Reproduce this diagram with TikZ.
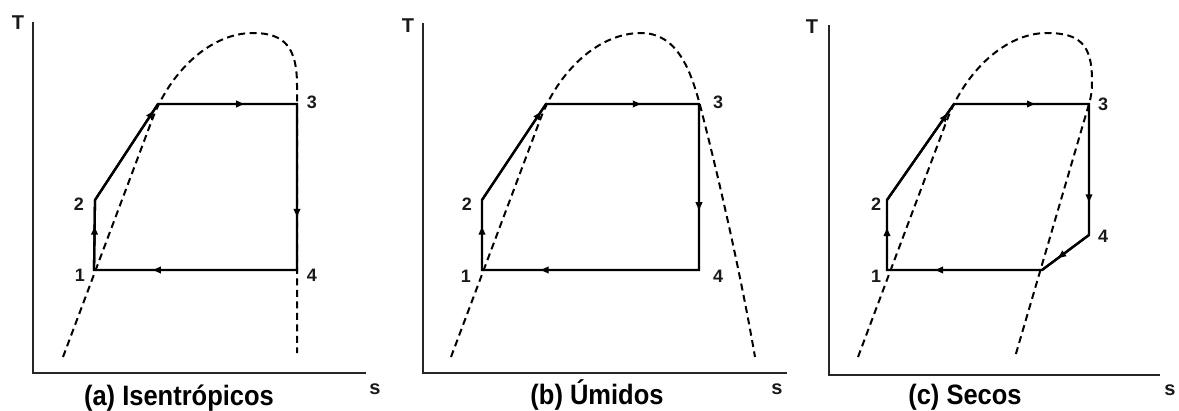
\documentclass[tikz,border=0pt]{standalone}
\usepackage{fontspec}
\setmainfont{Liberation Sans}
\usetikzlibrary{arrows.meta,decorations.markings}
\tikzset{
  axisline/.style={line width=2.2pt, draw=black!85},
  cyc/.style={line width=2.3pt, line join=miter},
  dome/.style={line width=2pt, dash pattern=on 7pt off 4.5pt},
  lbl/.style={font=\fontsize{18}{18}\selectfont\bfseries, inner sep=0pt, text=black!90},
  axlbl/.style={font=\fontsize{20}{20}\selectfont\bfseries, inner sep=0pt, text=black!90},
  ttl/.style={font=\fontsize{25.5}{25.5}\selectfont\bfseries, inner sep=0pt, anchor=base, yscale=1.1, transform shape},
  arrowat/.style={postaction={decorate}, decoration={markings,
     mark=at position #1 with {\arrow{Triangle[length=8pt,width=6.5pt]}}}}
}
\begin{document}
\begin{tikzpicture}[x=1pt,y=-1pt]
\useasboundingbox (0,0) rectangle (1179,410);
% ---------------- (a) ----------------
\coordinate (aO) at (33,373);
\coordinate (aYt) at (33,22);
\coordinate (aXr) at (366,373);
\draw[axisline] (aYt) -- (aO) -- (aXr);
\node[axlbl] (aT) at (18,23) {T};
\node[axlbl] (as) at (375,389) {s};
\node[ttl] (atitle) at (179,405) {(a) Isentrópicos};
\draw[dome] (63,357) -- (152,120) .. controls (170,72) and (210,33) .. (253,33)
  .. controls (285,33) and (297,48) .. (297,85) -- (297,353);
\coordinate (a1) at (94,270);
\coordinate (a2) at (95,200);
\coordinate (ad) at (158,104);
\coordinate (a3) at (297,104);
\coordinate (a4) at (297,270);
\draw[cyc] (a1) -- (a2) -- (ad) -- (a3) -- (a4) -- cycle;
\draw[cyc, arrowat=0.62] (a1) -- (a2);
\draw[cyc, arrowat=0.93] (a2) -- (ad);
\draw[cyc, arrowat=0.62] (ad) -- (a3);
\draw[cyc, arrowat=0.68] (a3) -- (a4);
\draw[cyc, arrowat=0.71] (a4) -- (a1);
\node[lbl] (a1l) at (80,275) {1};
\node[lbl] (a2l) at (79,204) {2};
\node[lbl] (a3l) at (312,102) {3};
\node[lbl] (a4l) at (312,275) {4};
% ---------------- (b) ----------------
\coordinate (bO) at (423,373);
\coordinate (bYt) at (423,23);
\coordinate (bXr) at (787,373);
\draw[axisline] (bYt) -- (bO) -- (bXr);
\node[axlbl] (bT) at (408,26) {T};
\node[axlbl] (bs) at (777,389) {s};
\node[ttl] (btitle) at (597,404) {(b) Úmidos};
\draw[dome] (451,357) -- (540,120) .. controls (558,72) and (598,33) .. (641,33)
  .. controls (678,33) and (691,72) .. (700,105) .. controls (718,175) and (740,270) .. (755,357);
\coordinate (b1) at (482,270);
\coordinate (b2) at (482,200);
\coordinate (bd) at (546,104);
\coordinate (b3) at (699,104);
\coordinate (b4) at (699,270);
\draw[cyc] (b1) -- (b2) -- (bd) -- (b3) -- (b4) -- cycle;
\draw[cyc, arrowat=0.62] (b1) -- (b2);
\draw[cyc, arrowat=0.92] (b2) -- (bd);
\draw[cyc, arrowat=0.62] (bd) -- (b3);
\draw[cyc, arrowat=0.64] (b3) -- (b4);
\draw[cyc, arrowat=0.73] (b4) -- (b1);
\node[lbl] (b1l) at (466,276) {1};
\node[lbl] (b2l) at (467,204) {2};
\node[lbl] (b3l) at (718,102) {3};
\node[lbl] (b4l) at (718,276) {4};
% ---------------- (c) ----------------
\coordinate (cO) at (829,375);
\coordinate (cYt) at (829,25);
\coordinate (cXr) at (1160,375);
\draw[axisline] (cYt) -- (cO) -- (cXr);
\node[axlbl] (cT) at (812,27) {T};
\node[axlbl] (cs) at (1170,390) {s};
\node[ttl] (ctitle) at (965,404) {(c) Secos};
\draw[dome] (858,357) -- (947,120) .. controls (965,72) and (1005,33) .. (1047,33)
  .. controls (1080,33) and (1092,45) .. (1092,80) .. controls (1092,92) and (1091,97) .. (1089,104) -- (1015,357);
\coordinate (c1) at (887,270);
\coordinate (c2) at (887,200);
\coordinate (cd) at (954,104);
\coordinate (c3) at (1089,104);
\coordinate (c4) at (1089,235);
\coordinate (c5) at (1042,270);
\draw[cyc] (c1) -- (c2) -- (cd) -- (c3) -- (c4) -- (c5) -- cycle;
\draw[cyc, arrowat=0.6] (c1) -- (c2);
\draw[cyc, arrowat=0.9] (c2) -- (cd);
\draw[cyc, arrowat=0.6] (cd) -- (c3);
\draw[cyc, arrowat=0.75] (c3) -- (c4);
\draw[cyc, arrowat=0.66] (c4) -- (c5);
\draw[cyc, arrowat=0.69] (c5) -- (c1);
\node[lbl] (c1l) at (876,276) {1};
\node[lbl] (c2l) at (876,204) {2};
\node[lbl] (c3l) at (1103,104) {3};
\node[lbl] (c4l) at (1103,236) {4};
\end{tikzpicture}
\end{document}
